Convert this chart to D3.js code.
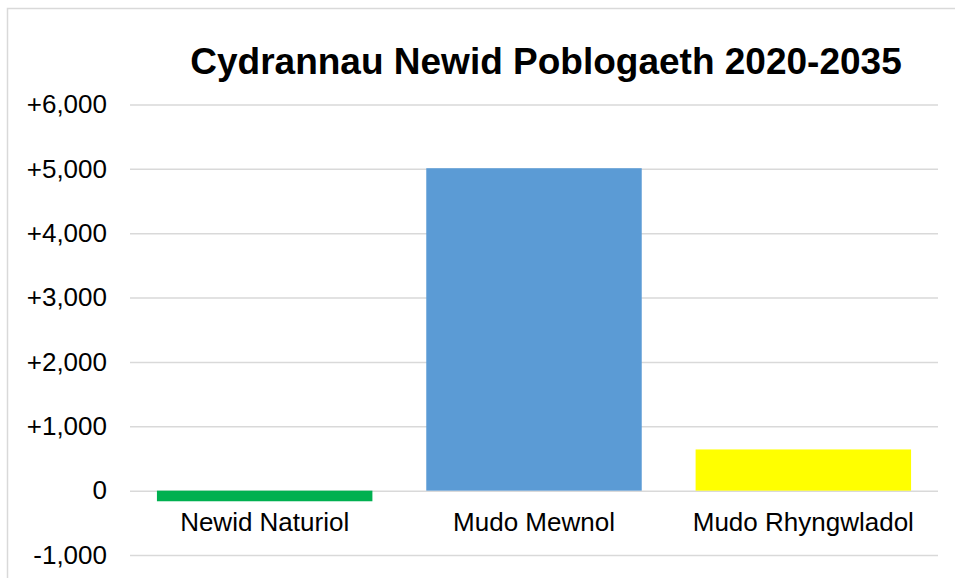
<!DOCTYPE html>
<html>
<head>
<meta charset="utf-8">
<script src="https://cdn.jsdelivr.net/npm/d3@7"></script>
<style>
    body { margin: 0; background: #fff; }
    svg { display: block; font-family: "Liberation Sans", Arial, sans-serif; }
</style>
</head>
<body>
<div id="chart"></div>
<script>
const categories = ['Newid Naturiol', 'Mudo Mewnol', 'Mudo Rhyngwladol'];
const values = [-165, 5010, 640];
const barColors = ['#00b050', '#5b9bd5', '#ffff00'];
const yTicks = [-1000, 0, 1000, 2000, 3000, 4000, 5000, 6000];
const title = 'Cydrannau Newid Poblogaeth 2020-2035';

const width = 955,
    height = 578;
const margin = {top: 104.5, right: 17, bottom: 23, left: 130};

const svg = d3.select('#chart').append('svg')
    .attr('width', width)
    .attr('height', height);

// chart area frame (right/bottom edges fall outside the picture)
svg.append('rect')
    .attr('x', 7.5)
    .attr('y', 8.5)
    .attr('width', 960)
    .attr('height', 600)
    .attr('fill', 'none')
    .attr('stroke', '#d9d9d9')
    .attr('stroke-width', 1.5);

const xScale = d3.scaleBand()
    .domain(categories)
    .range([margin.left, width - margin.right])
    .paddingInner(0.2)
    .paddingOuter(0.1);

const yScale = d3.scaleLinear()
    .domain([-1000, 6000])
    .range([height - margin.bottom, margin.top]);

// plain hyphen for negatives, like the original
const fmt = d3.formatLocale({decimal: '.', thousands: ',', grouping: [3], currency: ['', ''], minus: '-'}).format(',');
const yAxis = d3.axisLeft(yScale)
    .tickValues(yTicks)
    .tickFormat(d => d > 0 ? '+' + fmt(d) : fmt(d))
    .tickSize(-(width - margin.right - margin.left))
    .tickSizeOuter(0)
    .tickPadding(23);

const gYAxis = svg.append('g')
    .attr('class', 'y axis')
    .attr('transform', `translate(${margin.left},0)`)
    .call(yAxis);

gYAxis.select('.domain').remove();
gYAxis.selectAll('.tick line')
    .attr('stroke', '#d9d9d9')
    .attr('stroke-width', 1.5);
gYAxis.selectAll('.tick text')
    .attr('fill', '#000')
    .style('font-size', '26px');

svg.append('g')
    .selectAll('rect')
    .data(values)
    .enter()
    .append('rect')
    .attr('x', (d, i) => xScale(categories[i]))
    .attr('width', xScale.bandwidth())
    .attr('y', d => yScale(Math.max(0, d)))
    .attr('height', d => Math.abs(yScale(d) - yScale(0)))
    .attr('fill', (d, i) => barColors[i]);

// category labels sit just under the zero line
svg.append('g')
    .selectAll('text')
    .data(categories)
    .enter()
    .append('text')
    .attr('x', d => xScale(d) + xScale.bandwidth() / 2)
    .attr('y', yScale(0) + 40.5)
    .attr('text-anchor', 'middle')
    .style('font-size', '26px')
    .attr('fill', '#000')
    .text(d => d);

svg.append('text')
    .attr('x', 546)
    .attr('y', 73.5)
    .attr('text-anchor', 'middle')
    .style('font-size', '37px')
    .style('font-weight', 'bold')
    .attr('fill', '#000')
    .text(title);
</script>
</body>
</html>
